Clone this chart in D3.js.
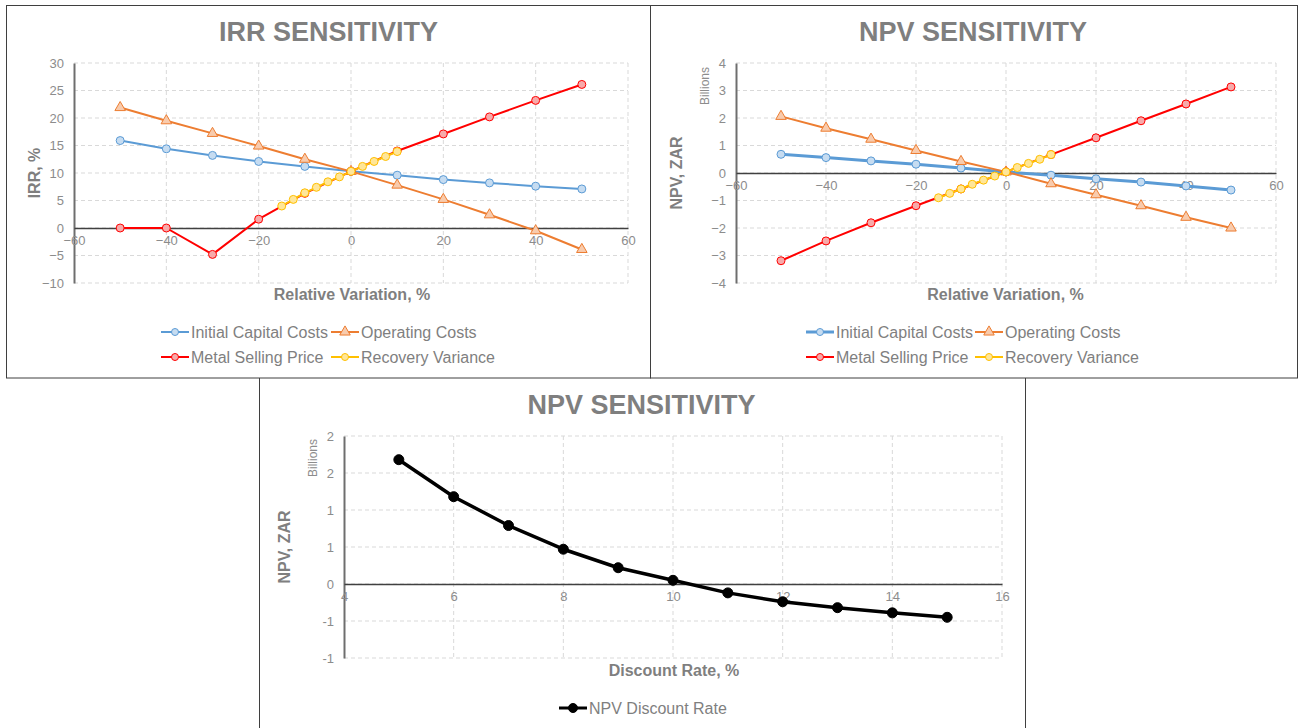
<!DOCTYPE html>
<html>
<head>
<meta charset="utf-8">
<script src="https://cdn.jsdelivr.net/npm/d3@7"></script>
<style>
  html, body { margin: 0; padding: 0; background: #ffffff; }
  svg { display: block; font-family: "Liberation Sans", Arial, sans-serif; }
</style>
</head>
<body>
<svg id="chart" width="1302" height="728"></svg>
<script>
// ---- data ----------------------------------------------------------------
const variation = [-50, -40, -30, -20, -10, 0, 10, 20, 30, 40, 50];
const recoveryVariation = [-15, -12.5, -10, -7.5, -5, -2.5, 0, 2.5, 5, 7.5, 10];

const seriesNames = ["Initial Capital Costs", "Operating Costs", "Metal Selling Price", "Recovery Variance"];

// IRR, %
const irrCapital   = [15.9, 14.4, 13.2, 12.1, 11.2, 10.3, 9.6, 8.8, 8.2, 7.6, 7.1];
const irrOperating = [21.9, 19.5, 17.2, 14.9, 12.5, 10.3, 7.8, 5.2, 2.4, -0.5, -3.9];
const irrMetal     = [0, 0, -4.8, 1.6, 6.3, 10.3, 14.0, 17.1, 20.2, 23.2, 26.1];
const irrRecovery  = [4.0, 5.2, 6.4, 7.4, 8.4, 9.3, 10.3, 11.2, 12.1, 13.0, 13.9];

// NPV, ZAR billions
const npvCapital   = [0.68, 0.56, 0.44, 0.32, 0.18, 0.04, -0.08, -0.21, -0.33, -0.47, -0.62];
const npvOperating = [2.06, 1.63, 1.23, 0.82, 0.42, 0.04, -0.39, -0.79, -1.19, -1.61, -2.0];
const npvMetal     = [-3.19, -2.47, -1.81, -1.19, -0.58, 0.04, 0.67, 1.28, 1.90, 2.51, 3.13];
const npvRecovery  = [-0.90, -0.74, -0.58, -0.41, -0.26, -0.11, 0.04, 0.20, 0.35, 0.50, 0.67];

// NPV against discount rate
const discountRates = [5, 6, 7, 8, 9, 10, 11, 12, 13, 14, 15];
const npvDiscount   = [1.68, 1.18, 0.79, 0.47, 0.22, 0.05, -0.12, -0.24, -0.32, -0.39, -0.45];

// axis ticks
const variationTicks = [-60, -40, -20, 0, 20, 40, 60];
const irrTicks = [-10, -5, 0, 5, 10, 15, 20, 25, 30];
const npvTicks = [-4, -3, -2, -1, 0, 1, 2, 3, 4];
const rateTicks = [4, 6, 8, 10, 12, 14, 16];
const discountNpvTicks  = [-1, -0.5, 0, 0.5, 1, 1.5, 2];
const discountNpvLabels = ["-1", "-1", "0", "1", "1", "2", "2"];

// ---- styles --------------------------------------------------------------
const TEXT = "#7f7f7f";
const TICK_TEXT = "#8c8c8c";
const GRID = "#d9d9d9";
const styles = {
  capital:   { color: "#5b9bd5", fill: "#c6dcf1", symbol: "circle" },
  operating: { color: "#ed7d31", fill: "#f8cbad", symbol: "triangle" },
  metal:     { color: "#ff0000", fill: "#f7aaaa", symbol: "circle" },
  recovery:  { color: "#ffc000", fill: "#ffe699", symbol: "circle" }
};

const svg = d3.select("#chart");

// panel frames
const frame = svg.append("g").attr("fill", "none").attr("stroke", "#3f3f3f").attr("stroke-width", 1);
frame.append("rect").attr("x", 6.5).attr("y", 5.5).attr("width", 644).attr("height", 372.5);
frame.append("rect").attr("x", 650.5).attr("y", 5.5).attr("width", 647).attr("height", 372.5);
frame.append("path").attr("d", "M259.5,378 V728 M1025.5,378 V728");

function drawMarker(g, shape, x, y, st, r) {
  if (shape === "triangle") {
    g.append("path")
      .attr("d", d3.symbol(d3.symbolTriangle).size(48)())
      .attr("transform", `translate(${x},${y})`)
      .attr("fill", st.fill).attr("stroke", st.color).attr("stroke-width", 1);
  } else {
    g.append("circle").attr("cx", x).attr("cy", y).attr("r", r)
      .attr("fill", st.fill).attr("stroke", st.color).attr("stroke-width", 1);
  }
}

function drawFrameAxes(cfg) {
  const { x, y, xTicks, yTicks, yLabels } = cfg;
  const [x0, x1] = x.range();
  const [yb, yt] = y.range();
  const g = svg.append("g");

  // dashed grid
  const grid = g.append("g").attr("stroke", GRID).attr("stroke-dasharray", "4,3").attr("stroke-width", 1);
  xTicks.forEach(v => {
    if (x(v) <= x0 + 0.5) return;
    grid.append("line").attr("x1", x(v)).attr("x2", x(v)).attr("y1", yt).attr("y2", yb);
  });
  yTicks.forEach(v => {
    grid.append("line").attr("x1", x0).attr("x2", x1).attr("y1", y(v)).attr("y2", y(v));
  });

  // y axis with labels
  const yAxis = d3.axisLeft(y).tickValues(yTicks).tickSize(0).tickPadding(10);
  if (yLabels) yAxis.tickFormat((d, i) => yLabels[i]);
  else yAxis.tickFormat(d3.format("d"));
  const ya = g.append("g").attr("transform", `translate(${x0},0)`).call(yAxis);
  ya.select(".domain").attr("stroke", "#6e6e6e").attr("stroke-width", 2);
  ya.selectAll("text").attr("fill", TICK_TEXT).attr("font-size", 13)
    .attr("font-family", "Liberation Sans, Arial, sans-serif");

  // x axis on the zero line
  const xAxis = d3.axisBottom(x).tickValues(xTicks).tickSize(0).tickPadding(8).tickFormat(d3.format("d"));
  const xa = g.append("g").attr("transform", `translate(0,${y(0)})`).call(xAxis);
  xa.select(".domain").attr("stroke", "#404040").attr("stroke-width", 1.5);
  xa.selectAll("text").attr("fill", TICK_TEXT).attr("font-size", 13)
    .attr("font-family", "Liberation Sans, Arial, sans-serif");
}

function drawSeries(x, y, xs, ys, st, lineWidth, r) {
  const g = svg.append("g");
  const pts = xs.map((v, i) => [v, ys[i]]);
  g.append("path").datum(pts)
    .attr("d", d3.line().x(d => x(d[0])).y(d => y(d[1])))
    .attr("fill", "none").attr("stroke", st.color).attr("stroke-width", lineWidth)
    .attr("stroke-linejoin", "round");
  pts.forEach(p => drawMarker(g, st.symbol, x(p[0]), y(p[1]), st, r));
}

function drawTitles(t) {
  svg.append("text").attr("x", t.cx).attr("y", t.titleY).attr("text-anchor", "middle")
    .attr("font-size", 27).attr("font-weight", "bold").attr("fill", TEXT).text(t.title);
  svg.append("text").attr("x", t.xTitleX).attr("y", t.xTitleY).attr("text-anchor", "middle")
    .attr("font-size", 16).attr("font-weight", "bold").attr("fill", TEXT).text(t.xTitle);
  svg.append("text").attr("transform", `translate(${t.yTitleX},${t.yTitleY}) rotate(-90)`)
    .attr("text-anchor", "middle").attr("font-size", 16).attr("font-weight", "bold")
    .attr("fill", TEXT).text(t.yTitle);
  if (t.unitX) {
    svg.append("text").attr("transform", `translate(${t.unitX},${t.unitY}) rotate(-90)`)
      .attr("text-anchor", "middle").attr("font-size", 12).attr("fill", TICK_TEXT).text("Billions");
  }
}

function drawLegend(items, lineWidths) {
  const g = svg.append("g");
  items.forEach((it, i) => {
    const st = it.style;
    g.append("line").attr("x1", it.x).attr("x2", it.x + 28).attr("y1", it.y).attr("y2", it.y)
      .attr("stroke", st.color).attr("stroke-width", lineWidths[i]);
    drawMarker(g, st.symbol, it.x + 14, it.y, st, it.r || 3.5);
    g.append("text").attr("x", it.x + 30).attr("y", it.y).attr("dy", "0.35em")
      .attr("font-size", 16).attr("fill", TEXT).text(it.label);
  });
}

// ---- IRR sensitivity -----------------------------------------------------
{
  const x = d3.scaleLinear().domain([-60, 60]).range([74, 628]);
  const y = d3.scaleLinear().domain([-10, 30]).range([283, 63]);
  drawFrameAxes({ x, y, xTicks: variationTicks, yTicks: irrTicks });
  drawSeries(x, y, variation, irrCapital, styles.capital, 2, 4);
  drawSeries(x, y, variation, irrOperating, styles.operating, 2, 4);
  drawSeries(x, y, variation, irrMetal, styles.metal, 2, 4);
  drawSeries(x, y, recoveryVariation, irrRecovery, styles.recovery, 2, 4);
  drawTitles({ cx: 328.5, titleY: 41, title: "IRR SENSITIVITY",
    xTitle: "Relative Variation, %", xTitleX: 352, xTitleY: 300,
    yTitle: "IRR, %", yTitleX: 40, yTitleY: 173 });
  drawLegend([
    { x: 161, y: 332, label: seriesNames[0], style: styles.capital },
    { x: 331, y: 332, label: seriesNames[1], style: styles.operating },
    { x: 161, y: 357, label: seriesNames[2], style: styles.metal },
    { x: 331, y: 357, label: seriesNames[3], style: styles.recovery }
  ], [2, 2, 2, 2]);
}

// ---- NPV sensitivity -----------------------------------------------------
{
  const x = d3.scaleLinear().domain([-60, 60]).range([736, 1276]);
  const y = d3.scaleLinear().domain([-4, 4]).range([283, 63]);
  drawFrameAxes({ x, y, xTicks: variationTicks, yTicks: npvTicks });
  drawSeries(x, y, variation, npvCapital, styles.capital, 3, 4);
  drawSeries(x, y, variation, npvOperating, styles.operating, 2, 4);
  drawSeries(x, y, variation, npvMetal, styles.metal, 2, 4);
  drawSeries(x, y, recoveryVariation, npvRecovery, styles.recovery, 2, 4);
  drawTitles({ cx: 973, titleY: 41, title: "NPV SENSITIVITY",
    xTitle: "Relative Variation, %", xTitleX: 1005.5, xTitleY: 300,
    yTitle: "NPV, ZAR", yTitleX: 682, yTitleY: 173, unitX: 709, unitY: 86 });
  drawLegend([
    { x: 806, y: 332, label: seriesNames[0], style: styles.capital },
    { x: 975, y: 332, label: seriesNames[1], style: styles.operating },
    { x: 806, y: 357, label: seriesNames[2], style: styles.metal },
    { x: 975, y: 357, label: seriesNames[3], style: styles.recovery }
  ], [3, 2, 2, 2]);
}

// ---- NPV against discount rate -------------------------------------------
{
  const x = d3.scaleLinear().domain([4, 16]).range([344, 1002]);
  const y = d3.scaleLinear().domain([-1, 2]).range([658, 436]);
  drawFrameAxes({ x, y, xTicks: rateTicks, yTicks: discountNpvTicks, yLabels: discountNpvLabels });
  const black = { color: "#000000", fill: "#000000", symbol: "circle" };
  drawSeries(x, y, discountRates, npvDiscount, black, 3.5, 5);
  drawTitles({ cx: 641.5, titleY: 414, title: "NPV SENSITIVITY",
    xTitle: "Discount Rate, %", xTitleX: 674, xTitleY: 676,
    yTitle: "NPV, ZAR", yTitleX: 290, yTitleY: 547, unitX: 317, unitY: 458 });
  drawLegend([
    { x: 559, y: 708, label: "NPV Discount Rate", style: black, r: 4.5 }
  ], [3]);
}
</script>
</body>
</html>
